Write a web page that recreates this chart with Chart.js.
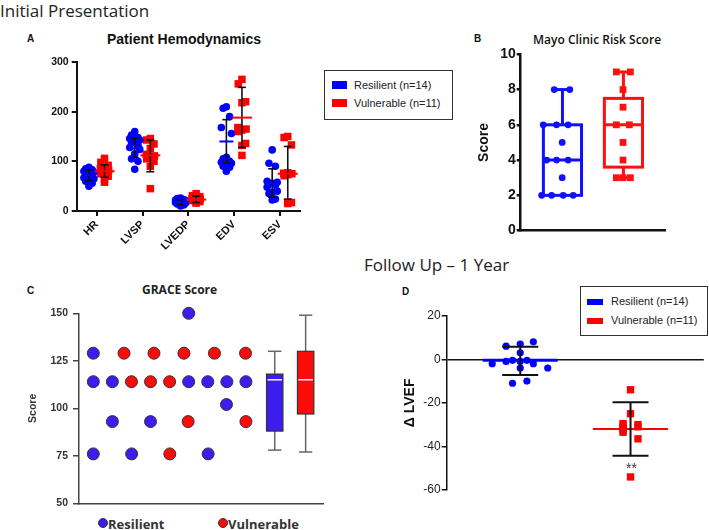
<!DOCTYPE html>
<html>
<head>
<meta charset="utf-8">
<script src="https://cdn.jsdelivr.net/npm/chart.js@4.4.1/dist/chart.umd.min.js"></script>
<style>
  body { margin: 0; background: #fff; width: 709px; height: 530px; position: relative; overflow: hidden; font-family: "Liberation Sans", Arial, sans-serif; }
  .t { position: absolute; white-space: nowrap; line-height: 1; }
  canvas { position: absolute; }
  .lg { position: absolute; border: 1px solid #333; background: #fff; }
  .lg div { position: absolute; font-size: 11px; color: #222; white-space: nowrap; line-height: 1; }
  .sw { position: absolute; }
</style>
</head>
<body>
<div class="t" style="left:0;top:-1px;font:17px 'Open Sans';color:#222">Initial Presentation</div>
<div class="t" style="left:27px;top:33px;font:bold 10px 'Liberation Sans';color:#111">A</div>
<div class="t" style="left:107px;top:31px;font:bold 14px 'Liberation Sans';color:#111">Patient Hemodynamics</div>
<div class="t" style="left:474px;top:33px;font:bold 10px 'Liberation Sans';color:#111">B</div>
<div class="t" style="left:533px;top:31px;font:600 12px 'Open Sans';color:#111">Mayo Clinic Risk Score</div>
<div class="t" style="left:364px;top:253px;font:17px 'Open Sans';color:#222">Follow Up – 1 Year</div>
<div class="t" style="left:27px;top:285px;font:bold 10px 'Liberation Sans';color:#111">C</div>
<div class="t" style="left:142px;top:281px;font:bold 12px 'Open Sans';color:#222">GRACE Score</div>
<div class="t" style="left:402px;top:286px;font:bold 10px 'Liberation Sans';color:#111">D</div>

<canvas id="chartA" width="320" height="215" style="left:0;top:50px"></canvas>
<canvas id="chartB" width="200" height="200" style="left:470px;top:40px"></canvas>
<canvas id="chartC" width="310" height="215" style="left:20px;top:300px"></canvas>
<canvas id="chartD" width="309" height="205" style="left:400px;top:295px"></canvas>

<div class="lg" style="left:324px;top:70px;width:127px;height:48px">
  <span class="sw" style="left:7px;top:10px;width:15px;height:8px;background:#0000ff"></span>
  <div style="left:29px;top:9px">Resilient (n=14)</div>
  <span class="sw" style="left:7px;top:28px;width:15px;height:8px;background:#ff0000"></span>
  <div style="left:29px;top:27px">Vulnerable (n=11)</div>
</div>
<div class="lg" style="left:580px;top:286px;width:126px;height:48px">
  <span class="sw" style="left:6px;top:12px;width:16px;height:6px;background:#0000ff"></span>
  <div style="left:30px;top:9px">Resilient (n=14)</div>
  <span class="sw" style="left:6px;top:31px;width:16px;height:6px;background:#ff0000"></span>
  <div style="left:30px;top:28px">Vulnerable (n=11)</div>
</div>
<div class="t" style="left:626px;top:460px;font:14px 'Liberation Sans';color:#333">**</div>

<span class="sw" style="left:98px;top:518px;width:10px;height:10px;border-radius:50%;background:#3d1cf0;box-sizing:border-box;border:1px solid #333"></span>
<div class="t" style="left:108px;top:515px;font:bold 13px 'Open Sans';color:#333">Resilient</div>
<span class="sw" style="left:218px;top:518px;width:10px;height:10px;border-radius:50%;background:#ff0a0a;box-sizing:border-box;border:1px solid #333"></span>
<div class="t" style="left:228px;top:515px;font:bold 13px 'Open Sans';color:#333">Vulnerable</div>

<script>
// ---- A: patient hemodynamics ----
const hemoCats = ['HR', 'LVSP', 'LVEDP', 'EDV', 'ESV'];
const hemoResilient = [
    [88, 85, 83, 80, 78, 75, 72, 70, 67, 65, 62, 60, 56, 50],
    [160, 153, 148, 146, 143, 140, 137, 133, 128, 124, 115, 105, 100, 84],
    [26, 25, 23, 22, 21, 20, 19, 18, 17, 16, 15, 14, 12, 10],
    [210, 207, 190, 168, 156, 108, 105, 100, 98, 96, 93, 90, 88, 80],
    [123, 96, 90, 60, 58, 56, 54, 52, 48, 40, 37, 35, 24, 22]
];
const hemoVulnerable = [
    [106, 98, 92, 88, 85, 82, 79, 75, 70, 64, 58],
    [146, 143, 135, 126, 114, 111, 109, 105, 100, 90, 45],
    [35, 31, 29, 27, 25, 24, 22, 21, 19, 17, 16],
    [265, 256, 220, 218, 168, 165, 163, 160, 136, 132, 112],
    [150, 148, 133, 77, 76, 75, 73, 71, 17, 16, 15]
];
const hemoResMean = [72, 126, 18, 140, 55];
const hemoResLow = [61, 108, 13, 97, 28];
const hemoResHigh = [83, 146, 23, 184, 85];
const hemoVulMean = [80, 112, 23, 188, 75];
const hemoVulLow = [68, 79, 17, 128, 24];
const hemoVulHigh = [93, 143, 30, 249, 130];
// horizontal spread of the dots inside a column (category units)
const swarm14 = [0, -0.07, 0.07, -0.11, 0.11, 0, -0.07, 0.07, -0.11, 0.11, 0, -0.07, 0.07, 0];
const swarm11 = [0, -0.08, 0.08, 0, -0.09, 0.09, 0, -0.08, 0.08, 0, 0];

// ---- B: Mayo Clinic risk score ----
const mayoResScore = [8, 8, 6, 6, 6, 5, 4, 4, 4, 3, 2, 2, 2, 2];
const mayoResSpread = [0.232, 0.34, 0.156, 0.248, 0.328, 0.287, 0.179, 0.248, 0.328, 0.287, 0.145, 0.214, 0.294, 0.363];
const mayoVulScore = [9, 9, 8, 7, 6, 6, 5, 4, 3, 3, 3];
const mayoVulSpread = [0.662, 0.759, 0.708, 0.708, 0.662, 0.752, 0.708, 0.708, 0.662, 0.708, 0.759];
const mayoMin = [2, 3];
const mayoQ1 = [2, 3.6];
const mayoMedian = [4, 6];
const mayoQ3 = [6, 7.5];
const mayoMax = [8, 9];

// ---- C: GRACE score ----
const graceResScore = [150, 129, 114, 114, 114, 114, 114, 114, 102, 93, 93, 76, 76, 76];
const graceResSpread = [5.75, 0.75, 0.75, 1.75, 5.75, 6.75, 7.75, 8.75, 7.73, 1.75, 3.75, 0.75, 2.76, 6.77];
const graceVulScore = [129, 129, 129, 129, 129, 114, 114, 114, 93, 93, 76];
const graceVulSpread = [2.36, 3.93, 5.5, 7.1, 8.73, 2.75, 3.75, 4.75, 5.72, 8.75, 4.76];
const graceMin = [78, 77];
const graceQ1 = [88, 97];
const graceMedian = [115, 115];
const graceQ3 = [118, 130];
const graceMax = [130, 149];

// ---- D: change in LVEF at 1 year ----
const lvefRes = [6, 7, 8, 3, -2, -1, -2, -4, -4, -11, -10, -1, -0.5, -0.5];
const lvefResSpread = [0.231, 0.286, 0.337, 0.286, 0.177, 0.231, 0.337, 0.393, 0.286, 0.256, 0.312, 0.286, 0.256, 0.312];
const lvefVul = [-14, -25, -29.5, -31.5, -33.5, -31, -36.5, -54, -30.5, -32.5, -30];
const lvefVulSpread = [0.715, 0.715, 0.686, 0.686, 0.686, 0.744, 0.744, 0.715, 0.686, 0.686, 0.744];
const lvefMean = [-0.5, -32];
const lvefLow = [-7.2, -44.3];
const lvefHigh = [5.7, -19.7];

const blue = '#0000ff';
const red = '#ff0000';

function seg(ctx, x1, y1, x2, y2) {
    ctx.beginPath();
    ctx.moveTo(x1, y1);
    ctx.lineTo(x2, y2);
    ctx.stroke();
}

const base = {
    responsive: false,
    animation: false,
    events: [],
    plugins: { legend: { display: false }, tooltip: { enabled: false } }
};

// A
const hemoResPts = [], hemoVulPts = [];
hemoCats.forEach((c, i) => {
    hemoResilient[i].forEach((v, k) => hemoResPts.push({ x: i + 1 - 0.17 + swarm14[k], y: v }));
    hemoVulnerable[i].forEach((v, k) => hemoVulPts.push({ x: i + 1 + 0.17 + swarm11[k], y: v }));
});

new Chart(document.getElementById('chartA'), {
    type: 'scatter',
    data: {
        datasets: [
            { data: hemoResPts, backgroundColor: blue, borderWidth: 0, pointRadius: 3.8, clip: false },
            { data: hemoVulPts, backgroundColor: red, borderWidth: 0, pointStyle: 'rect', pointRadius: 5.3, clip: false }
        ]
    },
    options: {
        ...base,
        layout: { padding: { top: 12, right: 20, left: 0, bottom: 0 } },
        scales: {
            x: {
                type: 'linear', min: 0.563, max: 5.437,
                afterFit: s => { s.height = 54; },
                afterBuildTicks: s => { s.ticks = hemoCats.map((c, i) => ({ value: i + 1 })); },
                ticks: {
                    autoSkip: false, minRotation: 45, maxRotation: 45, padding: 2,
                    callback: v => hemoCats[v - 1],
                    font: { family: 'Liberation Sans', size: 11, weight: 'bold' }, color: '#111'
                },
                grid: { drawOnChartArea: false, color: '#111', lineWidth: 2, tickLength: 5 },
                border: { color: '#111', width: 2 }
            },
            y: {
                min: 0, max: 300,
                afterFit: s => { s.width = 76.7; },
                ticks: { stepSize: 100, padding: 3, font: { family: 'Liberation Sans', size: 10.5, weight: 'bold' }, color: '#111' },
                grid: { drawOnChartArea: false, color: '#111', lineWidth: 2, tickLength: 5 },
                border: { color: '#111', width: 2 }
            }
        }
    },
    plugins: [{
        id: 'hemoStats',
        afterDatasetsDraw(chart) {
            const { ctx, scales: { x, y } } = chart;
            ctx.save();
            hemoCats.forEach((c, i) => {
                [[hemoResMean, hemoResLow, hemoResHigh, -0.17, blue, 7],
                 [hemoVulMean, hemoVulLow, hemoVulHigh, 0.17, red, 10]].forEach(([m, lo, hi, off, col, half]) => {
                    const px = x.getPixelForValue(i + 1 + off);
                    const yl = y.getPixelForValue(lo[i]), yh = y.getPixelForValue(hi[i]);
                    ctx.strokeStyle = '#111';
                    ctx.lineWidth = 1.6;
                    seg(ctx, px, yl, px, yh);
                    seg(ctx, px - 4, yl, px + 4, yl);
                    seg(ctx, px - 4, yh, px + 4, yh);
                    ctx.strokeStyle = col;
                    ctx.lineWidth = 2;
                    const ym = y.getPixelForValue(m[i]);
                    seg(ctx, px - half, ym, px + half, ym);
                });
            });
            ctx.restore();
        }
    }]
});

// B
new Chart(document.getElementById('chartB'), {
    type: 'scatter',
    data: {
        datasets: [
            { data: mayoResScore.map((v, k) => ({ x: mayoResSpread[k], y: v })), backgroundColor: '#1010ff', borderWidth: 0, pointRadius: 3.4, clip: false },
            { data: mayoVulScore.map((v, k) => ({ x: mayoVulSpread[k], y: v })), backgroundColor: '#ff1010', borderWidth: 0, pointStyle: 'rect', pointRadius: 4.8, clip: false }
        ]
    },
    options: {
        ...base,
        layout: { padding: { top: 14.3, right: 4.3, left: 0, bottom: 0 } },
        scales: {
            x: {
                type: 'linear', min: 0, max: 1,
                afterFit: s => { s.height = 3.3; },
                ticks: { display: false },
                grid: { display: false },
                border: { color: '#111', width: 2.5 }
            },
            y: {
                min: 0, max: 10,
                afterFit: s => { s.width = 50.7; },
                title: { display: true, text: 'Score', font: { family: 'Liberation Sans', size: 14, weight: 'bold' }, color: '#111', padding: { top: 6 } },
                ticks: { stepSize: 2, padding: 1, font: { family: 'Liberation Sans', size: 14, weight: 'bold' }, color: '#111' },
                grid: { drawOnChartArea: false, color: '#111', lineWidth: 2.5, tickLength: 4 },
                border: { color: '#111', width: 2.5 }
            }
        }
    },
    plugins: [{
        id: 'mayoBox',
        beforeDatasetsDraw(chart) {
            const { ctx, scales: { x, y } } = chart;
            ctx.save();
            ctx.lineWidth = 3;
            [[0.289, '#1010ff'], [0.711, '#ff1010']].forEach(([cx, col], i) => {
                ctx.strokeStyle = col;
                const l = x.getPixelForValue(cx - 0.132), r = x.getPixelForValue(cx + 0.132);
                const q1 = y.getPixelForValue(mayoQ1[i]), q3 = y.getPixelForValue(mayoQ3[i]);
                ctx.strokeRect(l, q3, r - l, q1 - q3);
                const md = y.getPixelForValue(mayoMedian[i]);
                seg(ctx, l, md, r, md);
                const px = x.getPixelForValue(cx);
                const cl = x.getPixelForValue(cx - 0.05), cr = x.getPixelForValue(cx + 0.05);
                const top = y.getPixelForValue(mayoMax[i]), bot = y.getPixelForValue(mayoMin[i]);
                seg(ctx, px, q3, px, top);
                seg(ctx, cl, top, cr, top);
                if (mayoMin[i] < mayoQ1[i]) {
                    seg(ctx, px, q1, px, bot);
                    seg(ctx, cl, bot, cr, bot);
                }
            });
            ctx.restore();
        }
    }]
});

// C
new Chart(document.getElementById('chartC'), {
    type: 'scatter',
    data: {
        datasets: [
            { data: graceResScore.map((v, k) => ({ x: graceResSpread[k], y: v })), backgroundColor: '#3d1cf0', borderColor: '#333', borderWidth: 1, pointRadius: 6, clip: false },
            { data: graceVulScore.map((v, k) => ({ x: graceVulSpread[k], y: v })), backgroundColor: '#ff0a0a', borderColor: '#333', borderWidth: 1, pointRadius: 6, clip: false }
        ]
    },
    options: {
        ...base,
        layout: { padding: { top: 13.3, right: 6.7, left: 0, bottom: 0 } },
        scales: {
            x: {
                type: 'linear', min: 0, max: 12.79,
                afterFit: s => { s.height = 11.7; },
                ticks: { display: false },
                grid: { display: false },
                border: { color: '#444', width: 1.5 }
            },
            y: {
                min: 50, max: 150,
                afterFit: s => { s.width = 59; },
                title: { display: true, text: 'Score', font: { family: 'Liberation Sans', size: 10.5, weight: 'bold' }, color: '#333', padding: { top: 7 } },
                ticks: { stepSize: 25, padding: 5, font: { family: 'Liberation Sans', size: 10.5, weight: 'bold' }, color: '#333' },
                grid: { drawOnChartArea: false, color: '#444', lineWidth: 1.5, tickLength: 6 },
                border: { color: '#444', width: 1.5 }
            }
        }
    },
    plugins: [{
        id: 'graceBox',
        afterDatasetsDraw(chart) {
            const { ctx, scales: { x, y } } = chart;
            ctx.save();
            [[10.26, '#3d1cf0'], [11.88, '#ff0a0a']].forEach(([cx, col], i) => {
                const px = x.getPixelForValue(cx);
                const l = x.getPixelForValue(cx - 0.43), r = x.getPixelForValue(cx + 0.43);
                const cl = x.getPixelForValue(cx - 0.35), cr = x.getPixelForValue(cx + 0.35);
                const top = y.getPixelForValue(graceMax[i]), bot = y.getPixelForValue(graceMin[i]);
                const q1 = y.getPixelForValue(graceQ1[i]), q3 = y.getPixelForValue(graceQ3[i]);
                ctx.strokeStyle = '#666';
                ctx.lineWidth = 1.5;
                seg(ctx, px, top, px, bot);
                seg(ctx, cl, top, cr, top);
                seg(ctx, cl, bot, cr, bot);
                ctx.fillStyle = col;
                ctx.fillRect(l, q3, r - l, q1 - q3);
                ctx.strokeStyle = '#333';
                ctx.lineWidth = 1.2;
                ctx.strokeRect(l, q3, r - l, q1 - q3);
                const md = y.getPixelForValue(graceMedian[i]);
                ctx.strokeStyle = '#f4f4ff';
                ctx.lineWidth = 1.5;
                seg(ctx, l + 1, md, r - 1, md);
            });
            ctx.restore();
        }
    }]
});

// D
new Chart(document.getElementById('chartD'), {
    type: 'scatter',
    data: {
        datasets: [
            { data: lvefRes.map((v, k) => ({ x: lvefResSpread[k], y: v })), backgroundColor: blue, borderWidth: 0, pointRadius: 3.6, clip: false },
            { data: lvefVul.map((v, k) => ({ x: lvefVulSpread[k], y: v })), backgroundColor: red, borderWidth: 0, pointStyle: 'rect', pointRadius: 5.2, clip: false }
        ]
    },
    options: {
        ...base,
        layout: { padding: { top: 20.7, right: 2.3, left: 0, bottom: 10 } },
        scales: {
            x: { type: 'linear', min: 0, max: 1, display: false },
            y: {
                min: -60, max: 20,
                afterFit: s => { s.width = 46.7; },
                title: { display: true, text: 'Δ LVEF', font: { family: 'Liberation Sans', size: 14, weight: 'bold' }, color: '#111', padding: { top: 2 } },
                ticks: { stepSize: 20, padding: 1, font: { family: 'Liberation Sans', size: 12 }, color: '#222' },
                grid: {
                    color: c => (c.tick && c.tick.value === 0 ? '#111' : 'rgba(0,0,0,0)'),
                    tickColor: '#111', lineWidth: 1.5, tickLength: 5
                },
                border: { color: '#111', width: 1.5 }
            }
        }
    },
    plugins: [{
        id: 'lvefStats',
        afterDatasetsDraw(chart) {
            const { ctx, scales: { x, y } } = chart;
            ctx.save();
            [[0.286, blue, 3, 0.146], [0.715, red, 2, 0.146]].forEach(([cx, col, lw, half], i) => {
                const ym = y.getPixelForValue(lvefMean[i]);
                ctx.strokeStyle = col;
                ctx.lineWidth = lw;
                seg(ctx, x.getPixelForValue(cx - half), ym, x.getPixelForValue(cx + half), ym);
                const px = x.getPixelForValue(cx);
                const cl = x.getPixelForValue(cx - 0.07), cr = x.getPixelForValue(cx + 0.07);
                const yl = y.getPixelForValue(lvefLow[i]), yh = y.getPixelForValue(lvefHigh[i]);
                ctx.strokeStyle = '#111';
                ctx.lineWidth = 2;
                seg(ctx, px, yl, px, yh);
                seg(ctx, cl, yl, cr, yl);
                seg(ctx, cl, yh, cr, yh);
            });
            ctx.restore();
        }
    }]
});
</script>
</body>
</html>
